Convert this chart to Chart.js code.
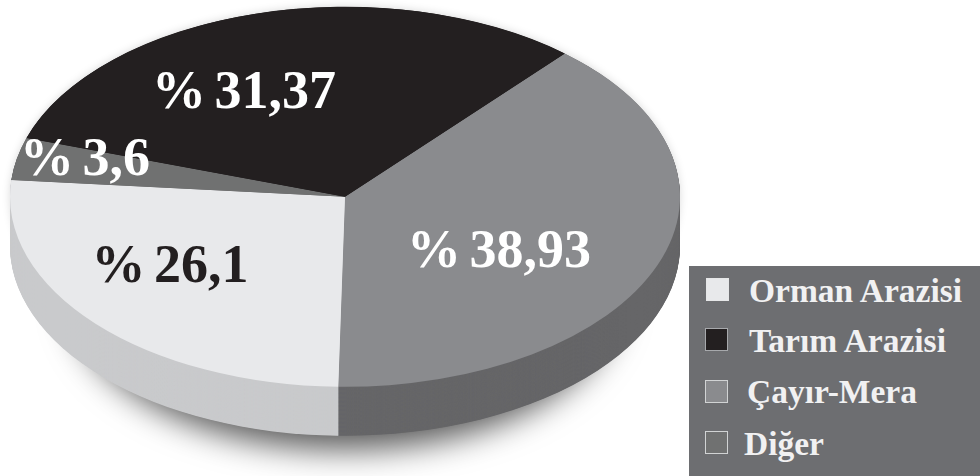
<!DOCTYPE html>
<html>
<head>
<meta charset="utf-8">
<script src="https://cdn.jsdelivr.net/npm/chart.js"></script>
<style>
    html, body { margin: 0; background: #fff; }
    #wrap { position: relative; width: 980px; height: 476px; overflow: hidden; }
    #pie { position: absolute; left: 0; top: 0; }
    #legend {
        position: absolute; left: 689px; top: 266px; width: 291px; height: 210px;
        background: #6d6e71; color: #f1f1f2;
        font: bold 33.5px "Liberation Serif", serif;
    }
    #legend div { position: absolute; white-space: nowrap; line-height: 34px; }
    #legend i { position: absolute; width: 23px; height: 23px; box-sizing: border-box; }
</style>
</head>
<body>
<div id="wrap">
    <canvas id="pie" width="980" height="700"></canvas>
    <div id="legend"></div>
</div>
<script>
// slices in clockwise order, starting from the one at upper right
const categories = ['Çayır-Mera', 'Orman Arazisi', 'Diğer', 'Tarım Arazisi'];
const values = [38.93, 26.1, 3.6, 31.37];
const topColors = ['#8a8b8e', '#e8e9eb', '#707171', '#231f20'];
const sideColors = ['#666668', '#c9cacc', '#666668', '#231f20'];
const labelColors = ['#ffffff', '#231f20', '#ffffff', '#ffffff'];

const legendNames = ['Orman Arazisi', 'Tarım Arazisi', 'Çayır-Mera', 'Diğer'];
const legendBorders = ['#e6e7e8', '#a7a9ac', '#d1d3d4', '#d1d3d4'];
const legendText = [{ x: 60, y: 8 }, { x: 60, y: 58 }, { x: 58, y: 109 }, { x: 55, y: 161 }];
const legendBox = [{ x: 17, y: 12 }, { x: 16, y: 62 }, { x: 16, y: 114 }, { x: 16, y: 165 }];

// label baselines on the page
const labelAt = [{ x: 499, y: 267 }, { x: 170, y: 282 }, { x: 85, y: 175 }, { x: 244, y: 108 }];

const squash = 190 / 335;   // tilt of the pie
const depth = 49;

const tiltPlugin = {
    id: 'tilt',
    beforeDatasetsDraw(chart) {
        const ctx = chart.ctx;
        const arcs = chart.getDatasetMeta(0).data;
        const d = depth / squash;
        const { x, y, outerRadius: r } = arcs[0];
        ctx.save();
        ctx.scale(1, squash);

        // soft shadow under the pie
        ctx.save();
        ctx.shadowColor = 'rgba(0,0,0,0.65)';
        ctx.shadowBlur = 32;
        ctx.shadowOffsetY = 48;
        ctx.fillStyle = '#555';
        ctx.beginPath();
        ctx.arc(x, y + d, r * 0.82, 0, Math.PI * 2);
        ctx.fill();
        ctx.restore();

        // halo round the top
        ctx.save();
        ctx.shadowColor = 'rgba(0,0,0,0.18)';
        ctx.shadowBlur = 10;
        ctx.fillStyle = '#888';
        ctx.beginPath();
        ctx.arc(x, y, r - 1, 0, Math.PI * 2);
        ctx.fill();
        ctx.restore();

        // side wall: the slices stacked downwards
        for (let off = d; off > 0; off -= 1) {
            arcs.forEach((arc, i) => {
                ctx.fillStyle = sideColors[i];
                ctx.beginPath();
                ctx.moveTo(arc.x, arc.y + off);
                ctx.arc(arc.x, arc.y + off, arc.outerRadius, arc.startAngle, arc.endAngle);
                ctx.closePath();
                ctx.fill();
            });
        }
    },
    afterDatasetsDraw(chart) {
        chart.ctx.restore();
    },
    afterDraw(chart) {
        const ctx = chart.ctx;
        ctx.save();
        ctx.font = 'bold 54px "Liberation Serif", serif';
        ctx.wordSpacing = '-5px';
        ctx.textAlign = 'center';
        ctx.textBaseline = 'alphabetic';
        values.forEach((v, i) => {
            ctx.fillStyle = labelColors[i];
            ctx.fillText('% ' + String(v).replace('.', ','), labelAt[i].x, labelAt[i].y);
        });
        ctx.restore();
    }
};

new Chart(document.getElementById('pie'), {
    type: 'pie',
    data: {
        labels: categories,
        datasets: [{ data: values, backgroundColor: topColors, borderWidth: 0, hoverOffset: 0 }]
    },
    options: {
        responsive: false,
        animation: false,
        rotation: 41,
        layout: { padding: { left: 10, right: 300, top: 12, bottom: 18 } },
        plugins: { legend: { display: false }, tooltip: { enabled: false } }
    },
    plugins: [tiltPlugin]
});

// legend box
const legend = document.getElementById('legend');
legendNames.forEach((name, i) => {
    const box = document.createElement('i');
    box.style.left = legendBox[i].x + 'px';
    box.style.top = legendBox[i].y + 'px';
    box.style.background = topColors[categories.indexOf(name)];
    box.style.border = '1px solid ' + legendBorders[i];
    legend.appendChild(box);
    const row = document.createElement('div');
    row.textContent = name;
    row.style.left = legendText[i].x + 'px';
    row.style.top = legendText[i].y + 'px';
    legend.appendChild(row);
});
</script>
</body>
</html>
